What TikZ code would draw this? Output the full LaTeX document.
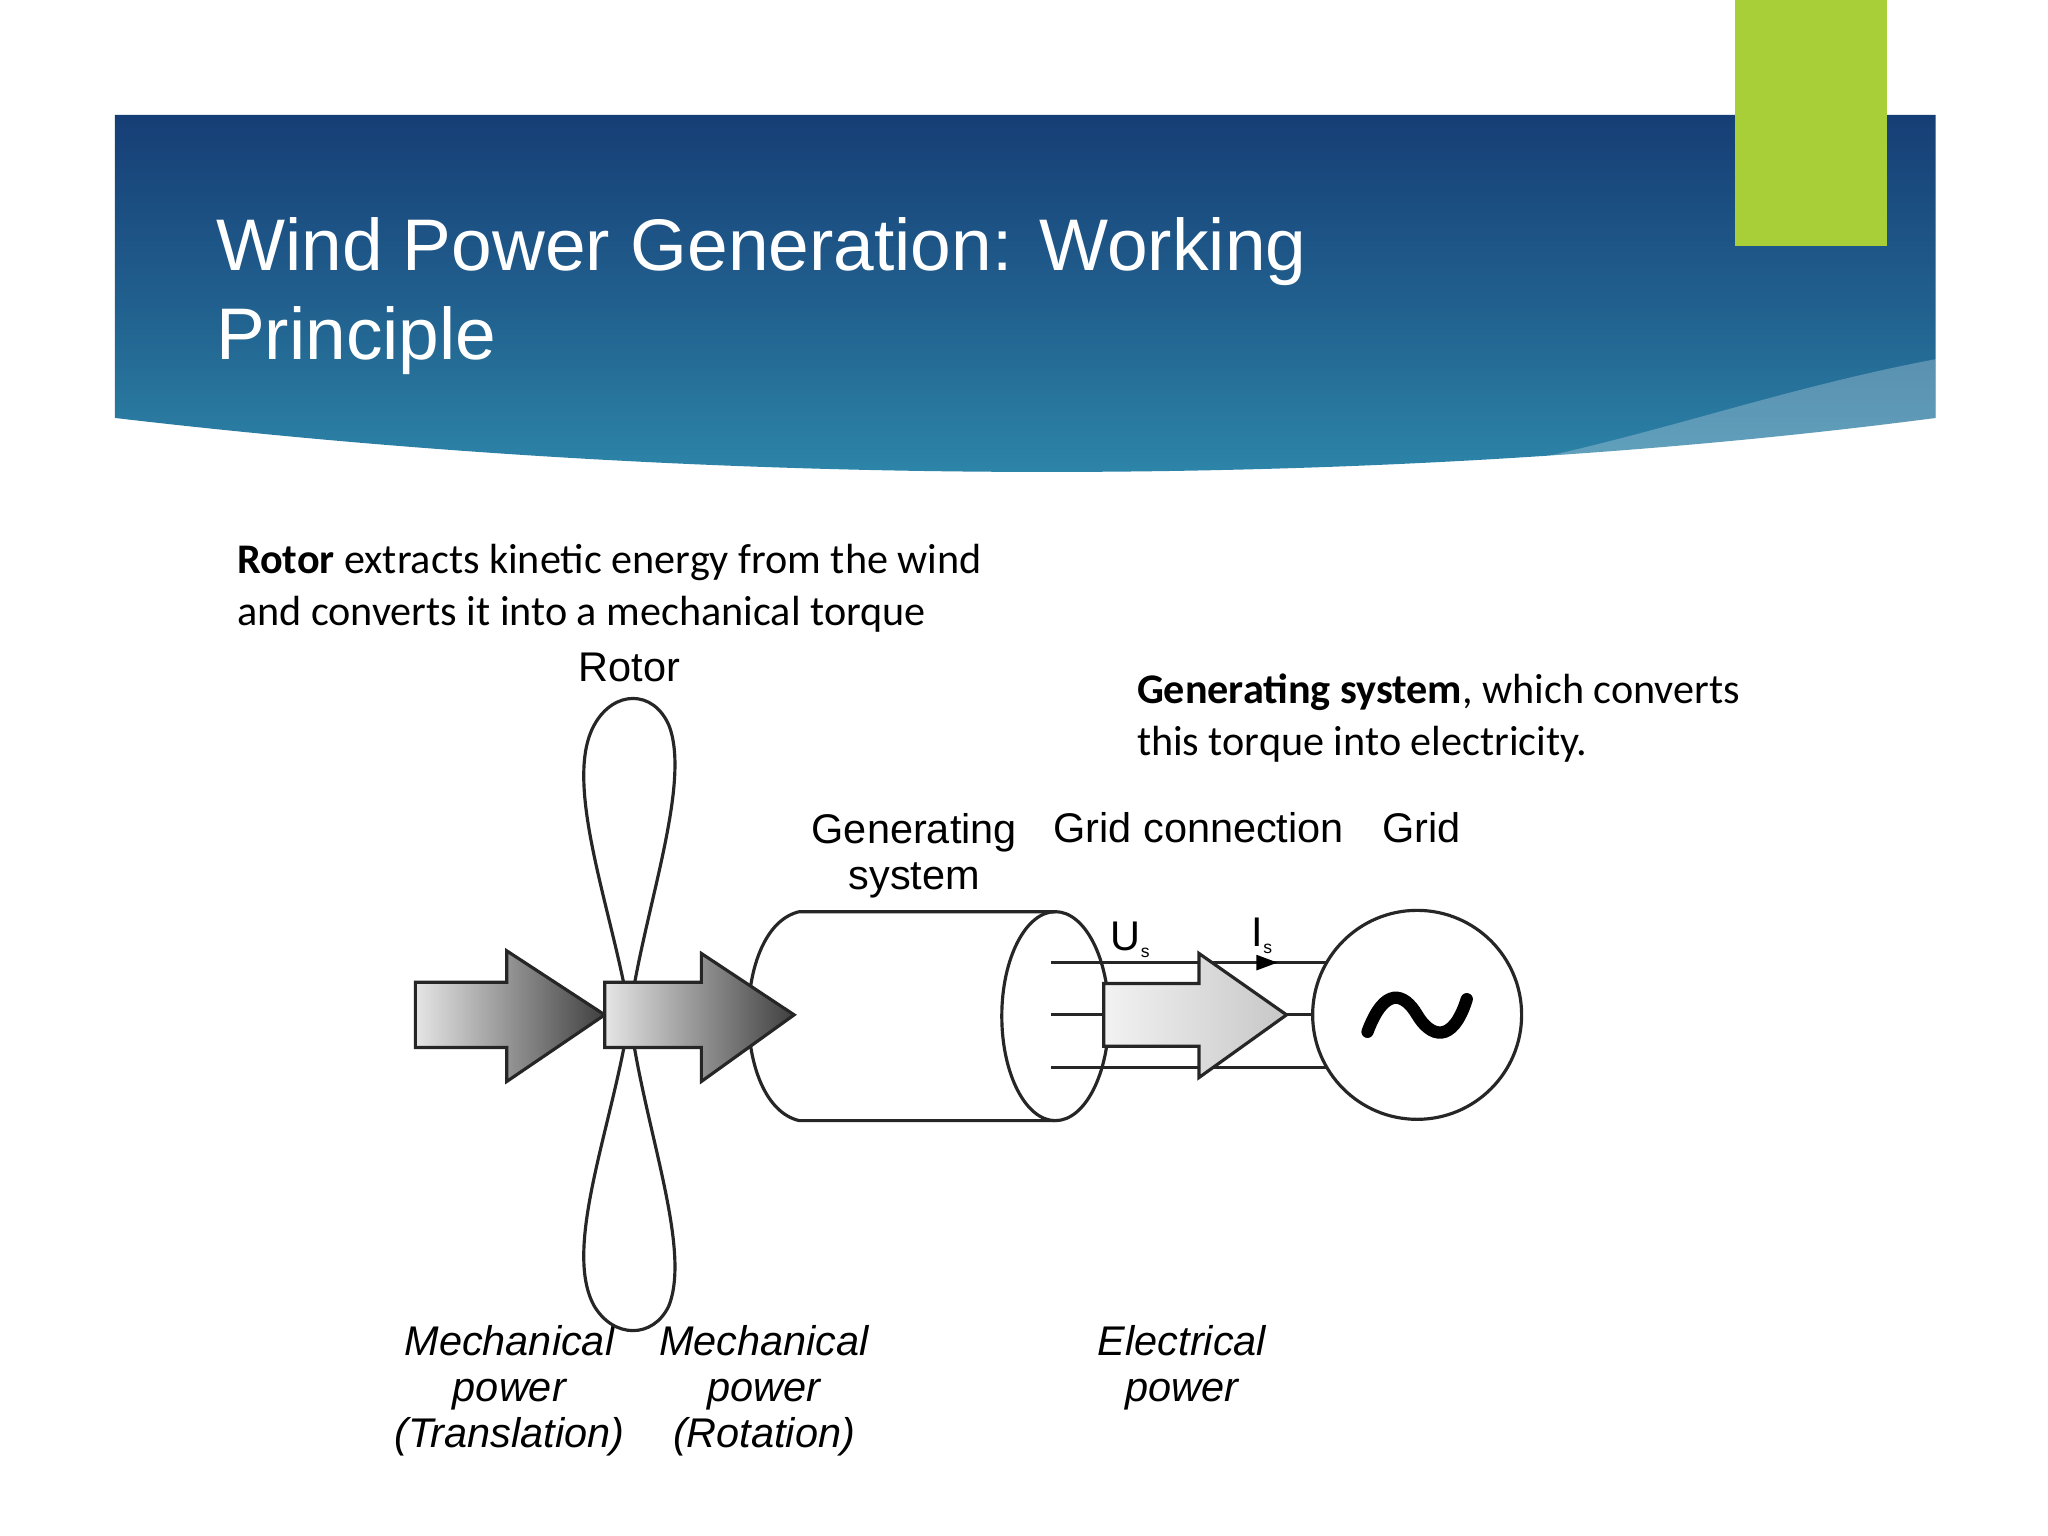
\documentclass[tikz,border=0pt]{standalone}
\usepackage{fontspec}
\setmainfont{Liberation Sans}
\newfontfamily\calib{Carlito}
\begin{document}
\begin{tikzpicture}[x=0.013061cm,y=-0.013061cm,
  ln/.style={line width=0.9pt,black!85},
  lbl/.style={font=\fontsize{11.8}{13.2}\selectfont,align=center,inner sep=0pt},
  ilbl/.style={font=\fontsize{11.8}{13.2}\selectfont\itshape,align=center,inner sep=0pt,anchor=north},
  body/.style={font=\calib\fontsize{12}{14.9}\selectfont,align=left,inner sep=0pt,anchor=north west},
  darkarrow/.style={ln,left color=black!10,right color=black!75},
  lightarrow/.style={ln,left color=black!5,right color=black!22}]
\definecolor{bgA}{RGB}{22,62,118}
\definecolor{bgB}{RGB}{46,138,172}
\definecolor{lime}{RGB}{168,207,56}
\useasboundingbox (0,0) rectangle (1568,1176);
\fill[white] (0,0) rectangle (1568,1176);
% banner
\shade[top color=bgA,bottom color=bgB,middle color=bgA!55!bgB]
  (88,88) -- (1482,88) -- (1482,320) .. controls (1100,370) and (600,380) .. (88,320) -- cycle;
\fill[white,opacity=0.25] (1482,275) .. controls (1350,300) and (1250,340) .. (1120,362) .. controls (1300,345) and (1420,330) .. (1482,320) -- cycle;
\fill[lime] (1328,0) rectangle (1445,188);
\node[anchor=base west,text=white,font=\fontsize{20.8}{25}\selectfont,inner sep=0pt] (t1) at (165,207) {Wind Power Generation: Working};
\node[anchor=base west,text=white,font=\fontsize{20.8}{25}\selectfont,inner sep=0pt] (t2) at (165,275) {Principle};
% texts
\node[body] (r) at (181,416) {\textbf{Rotor} extracts kinetic energy from the wind\\and converts it into a mechanical torque};
\node[body] (g) at (870,515) {\textbf{Generating system}, which converts\\this torque into electricity.};
\node[lbl,anchor=base] (rotor) at (482,522) {Rotor};
\node[lbl,anchor=north] (gs) at (700,622) {Generating\\system};
\node[lbl,anchor=base west] (gc) at (806,645) {Grid connection};
\node[lbl,anchor=base west] (gr) at (1058,645) {Grid};
\node[ilbl] (m1) at (390,1014) {Mechanical\\power\\(Translation)};
\node[ilbl] (m2) at (585,1014) {Mechanical\\power\\(Rotation)};
\node[ilbl] (ep) at (905,1014) {Electrical\\power};
% cylinder
\draw[ln,fill=white] (808,698) -- (612,698) .. controls (560,710) and (560,846) .. (612,858) -- (808,858);
\draw[ln] (808,778) ellipse [x radius=41, y radius=80];
% blades
\draw[ln] (482,777) .. controls (470,700) and (430,600) .. (455,555) .. controls (470,528) and (500,528) .. (512,555) .. controls (530,600) and (492,700) .. (482,777);
\draw[ln] (482,777) .. controls (470,860) and (430,955) .. (455,1000) .. controls (470,1025) and (500,1025) .. (512,1000) .. controls (530,955) and (492,860) .. (482,777);
% arrows
\draw[darkarrow] (318,752) -- (388,752) -- (388,728) -- (463,777) -- (388,828) -- (388,802) -- (318,802) -- cycle;
\draw[darkarrow] (463,752) -- (537,752) -- (537,730) -- (608,777) -- (537,828) -- (537,802) -- (463,802) -- cycle;
% lines
\draw[ln] (805,737) -- (1015,737);
\draw[ln] (805,817) -- (1015,817);
\draw[ln] (805,777) -- (845,777);
\draw[ln] (985,777) -- (1005,777);
\draw[lightarrow] (845,753) -- (918,753) -- (918,730) -- (985,777) -- (918,825) -- (918,801) -- (845,801) -- cycle;
\fill (962,731) -- (978,737) -- (962,743) -- cycle;
\node[lbl,anchor=base west] (us) at (850,728) {U\textsubscript{\tiny s}};
\node[lbl,anchor=base west] (is) at (958,725) {I\textsubscript{\tiny s}};
% grid
\draw[ln,fill=white] (1085,777) circle [radius=80];
\draw[line width=3.5pt,line cap=round] (1047,790) .. controls (1060,755) and (1075,760) .. (1085,777) .. controls (1095,794) and (1112,800) .. (1123,765);
\end{tikzpicture}
\end{document}
